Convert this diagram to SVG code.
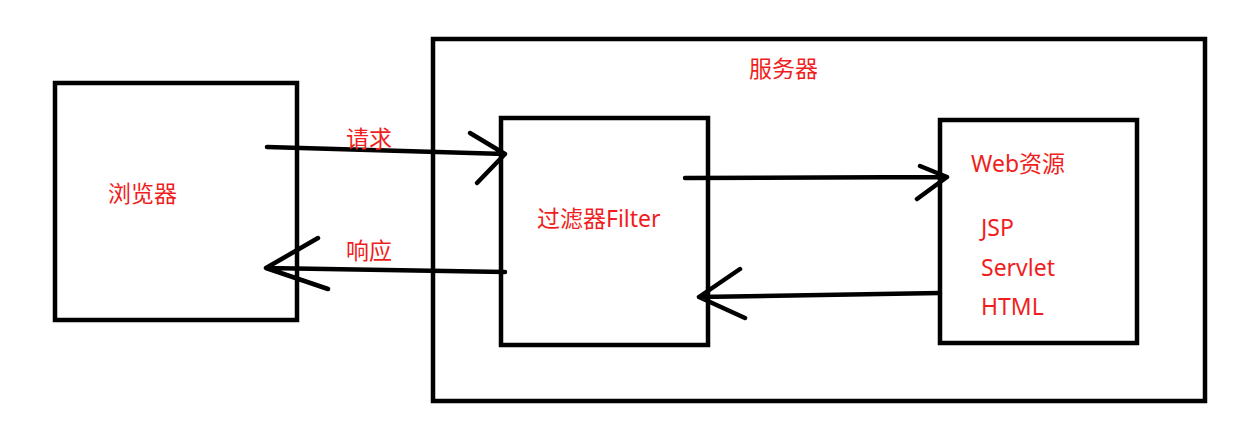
<svg xmlns="http://www.w3.org/2000/svg" width="1254" height="441" viewBox="0 0 1254 441">
<style>
.box{fill:none;stroke:#000;stroke-width:4.5}
.ln{fill:none;stroke:#000;stroke-width:4.5;stroke-linecap:round;stroke-linejoin:round}
.t{font-family:"Noto Sans","Noto Sans CJK SC",sans-serif;font-size:23px;fill:#f01e1e}
</style>
<rect width="1254" height="441" fill="#fff"/>
<g id="server"><rect class="box" x="433" y="39" width="772" height="362"/><text class="t" x="749" y="77">服务器</text></g>
<g id="browser"><rect class="box" x="55" y="83" width="242" height="237"/><text class="t" x="108" y="202">浏览器</text></g>
<g id="filter"><rect class="box" x="501" y="118" width="207" height="227"/><text class="t" x="537" y="227">过滤器Filter</text></g>
<g id="web"><rect class="box" x="940" y="120" width="197" height="223"/>
<text class="t" x="971" y="172">Web资源</text>
<text class="t" x="981" y="236">JSP</text>
<text class="t" x="981" y="276">Servlet</text>
<text class="t" x="981" y="315">HTML</text></g>
<g id="connectors">
<path class="ln" d="M267 147 L505 154 M470 133 L505 154 L477 183"/>
<path class="ln" d="M505 272 L266 268 M318 238 L266 268 L328 289"/>
<path class="ln" d="M685 178 L947 177 M920 166 L947 177 L917 199"/>
<path class="ln" d="M940 293 L699 297 M740 269 L699 297 L745 318"/>
</g>
<g id="labels"><text class="t" x="346" y="147">请求</text><text class="t" x="346" y="259">响应</text></g>
</svg>
